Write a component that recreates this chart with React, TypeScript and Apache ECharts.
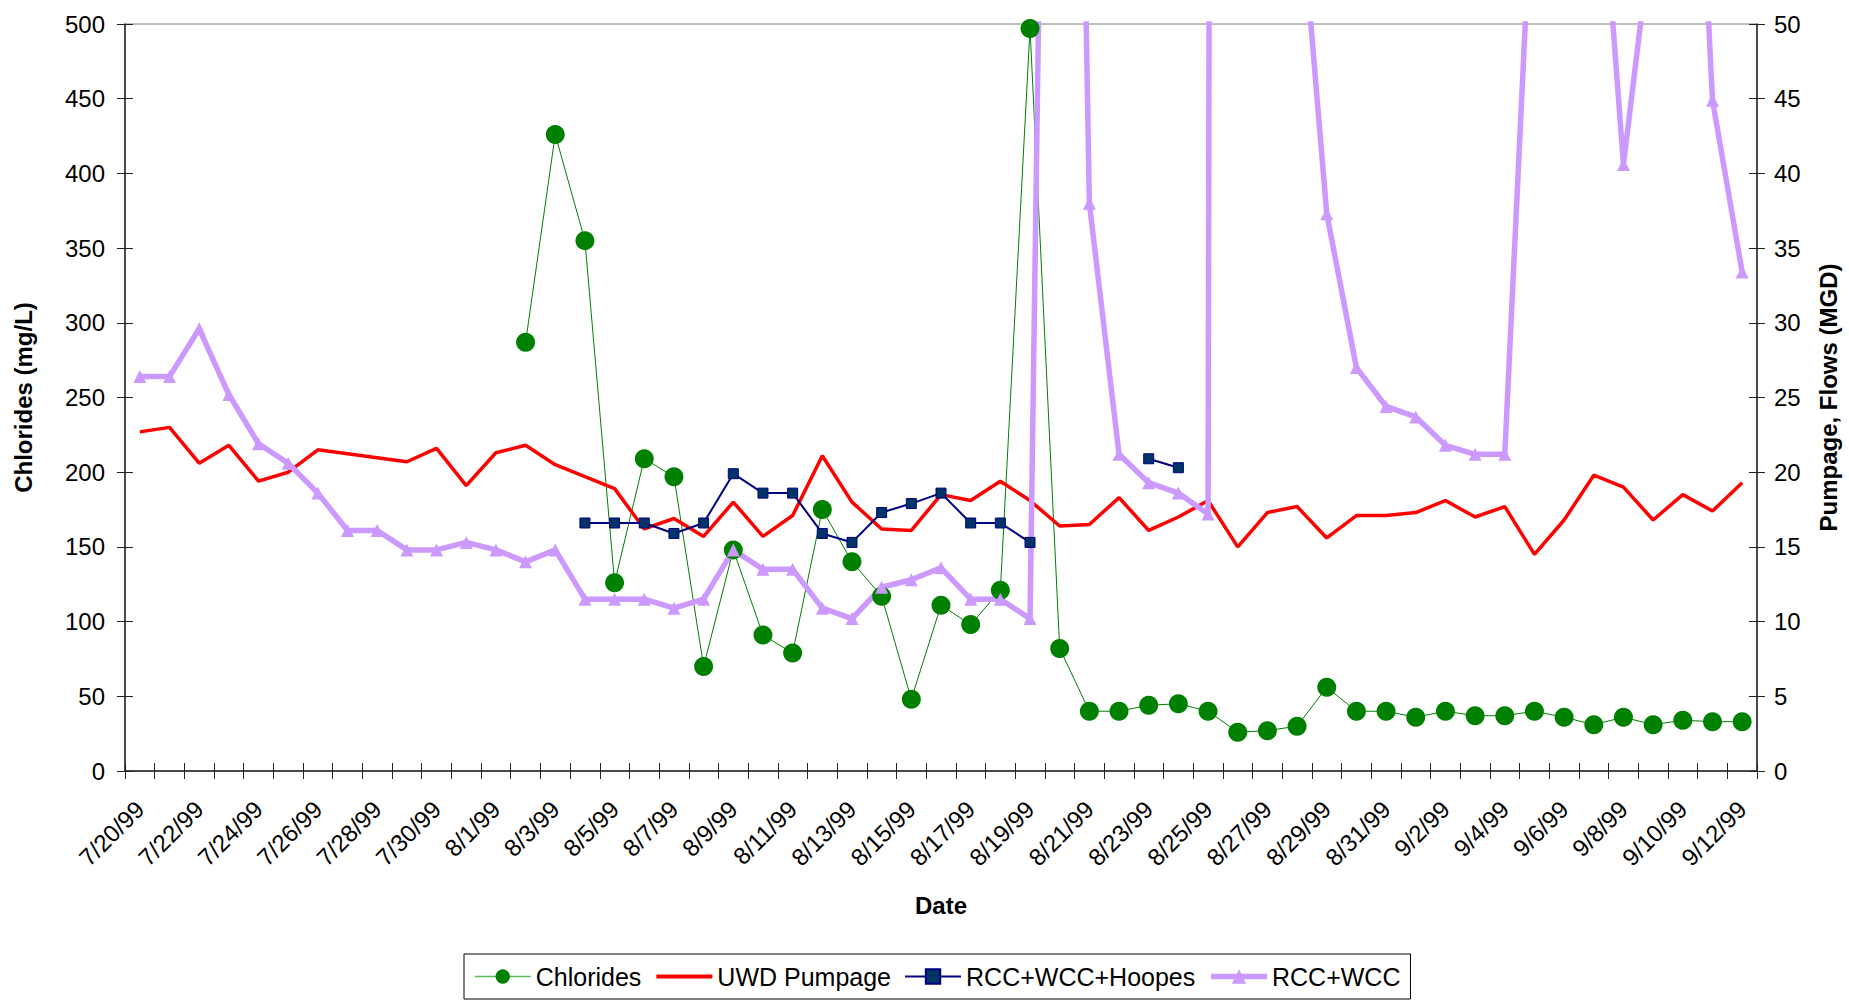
import React, { useEffect, useRef } from 'react';
import * as echarts from 'echarts';

const dates = [
  '7/20/99', '7/21/99', '7/22/99', '7/23/99', '7/24/99', '7/25/99', '7/26/99', '7/27/99', '7/28/99', '7/29/99',
  '7/30/99', '7/31/99', '8/1/99', '8/2/99', '8/3/99', '8/4/99', '8/5/99', '8/6/99', '8/7/99', '8/8/99',
  '8/9/99', '8/10/99', '8/11/99', '8/12/99', '8/13/99', '8/14/99', '8/15/99', '8/16/99', '8/17/99', '8/18/99',
  '8/19/99', '8/20/99', '8/21/99', '8/22/99', '8/23/99', '8/24/99', '8/25/99', '8/26/99', '8/27/99', '8/28/99',
  '8/29/99', '8/30/99', '8/31/99', '9/1/99', '9/2/99', '9/3/99', '9/4/99', '9/5/99', '9/6/99', '9/7/99',
  '9/8/99', '9/9/99', '9/10/99', '9/11/99', '9/12/99',
];

// Chlorides (mg/L), left axis
const chlorides = [
  null, null, null, null, null, null, null, null, null, null,
  null, null, null, 287, 426, 355, 126, 209, 197, 70,
  148, 91, 79, 175, 140, 117, 48, 111, 98, 121,
  497, 82, 40, 40, 44, 45, 40, 26, 27, 30,
  56, 40, 40, 36, 40, 37, 37, 40, 36, 31,
  36, 31, 34, 33, 33,
];

// UWD Pumpage (MGD), right axis
const uwdPumpage = [
  22.7, 23.0, 20.6, 21.8, 19.4, 20.0, 21.5, null, null, 20.7,
  21.6, 19.1, 21.3, 21.8, 20.5, 19.7, 18.9, 16.2, 16.9, 15.7,
  18.0, 15.7, 17.1, 21.1, 18.0, 16.2, 16.1, 18.5, 18.1, 19.4,
  18.1, 16.4, 16.5, 18.3, 16.1, 17.0, 18.1, 15.0, 17.3, 17.7,
  15.6, 17.1, 17.1, 17.3, 18.1, 17.0, 17.7, 14.5, 16.8, 19.8,
  19.0, 16.8, 18.5, 17.4, 19.3,
];

// RCC+WCC+Hoopes (MGD), right axis
const rccWccHoopes = [
  null, null, null, null, null, null, null, null, null, null,
  null, null, null, null, null, 16.6, 16.6, 16.6, 15.9, 16.6,
  19.9, 18.6, 18.6, 15.9, 15.3, 17.3, 17.9, 18.6, 16.6, 16.6,
  15.3, null, null, null, 20.9, 20.3, null, null, null, null,
  null, null, null, null, null, null, null, null, null, null,
  null, null, null, null, null,
];

// RCC+WCC (MGD), right axis
const rccWcc = [
  26.4, 26.4, 29.6, 25.2, 21.9, 20.6, 18.6, 16.1, 16.1, 14.8,
  14.8, 15.3, 14.8, 14.0, 14.8, 11.5, 11.5, 11.5, 10.9, 11.5,
  14.8, 13.5, 13.5, 10.9, 10.2, 12.3, 12.8, 13.6, 11.5, 11.5,
  10.2, 150, 38.0, 21.2, 19.3, 18.6, 17.2, 1000, 400, 61,
  37.3, 27.0, 24.4, 23.7, 21.8, 21.2, 21.2, 63, 90, 67,
  40.6, 57, 85, 44.9, 33.4,
];

const FONT = "'Liberation Sans', Arial, sans-serif";

export default function App() {
  const ref = useRef<HTMLDivElement>(null);

  useEffect(() => {
    if (!ref.current) return;
    const chart = echarts.init(ref.current, null, { renderer: 'svg' });
    const axisColor = '#222';
    const labelStyle = { fontSize: 24, color: '#000', fontFamily: FONT };
    const nameStyle = { fontSize: 24, fontWeight: 'bold', color: '#000', fontFamily: FONT };

    chart.setOption({
      animation: false,
      backgroundColor: '#fff',
      textStyle: { fontFamily: FONT },
      grid: {
        left: 125, right: 92, top: 24, bottom: 229,
        show: true, borderColor: '#808080', borderWidth: 1,
        outerBoundsMode: 'none',
      },
      legend: {
        left: 464, top: 954,
        orient: 'horizontal',
        data: [
          { name: 'Chlorides', lineStyle: { width: 1.5, color: '#5cb85c' } },
          { name: 'UWD Pumpage', lineStyle: { width: 4 }, itemStyle: { opacity: 0 } },
          { name: 'RCC+WCC+Hoopes', lineStyle: { width: 2 } },
          { name: 'RCC+WCC', lineStyle: { width: 5.5 } },
        ],
        borderColor: '#000', borderWidth: 1,
        padding: [10, 10, 10, 10],
        itemWidth: 56, itemHeight: 18, itemGap: 13,
        textStyle: { fontSize: 25, color: '#000', fontFamily: FONT },
      },
      xAxis: [
        {
          type: 'category', data: dates, boundaryGap: true, position: 'bottom',
          axisLine: { show: true, lineStyle: { color: axisColor, width: 1.5 } },
          axisTick: { show: true, interval: 0, length: 8, lineStyle: { color: axisColor } },
          axisLabel: { ...labelStyle, interval: 1, rotate: 45, margin: 34 },
          splitLine: { show: false },
          name: 'Date', nameLocation: 'middle', nameGap: 122, nameTextStyle: nameStyle,
        },
        {
          type: 'category', data: dates, boundaryGap: true, position: 'bottom',
          axisLine: { show: false },
          axisTick: { show: true, inside: true, interval: 0, length: 8, lineStyle: { color: axisColor } },
          axisLabel: { show: false },
          splitLine: { show: false },
        },
      ],
      yAxis: [
        {
          type: 'value', min: 0, max: 500, interval: 50, position: 'left',
          axisLine: { show: true, lineStyle: { color: axisColor, width: 1.5 } },
          axisTick: { show: true, length: 8, lineStyle: { color: axisColor } },
          axisLabel: { ...labelStyle, margin: 20 },
          splitLine: { show: false },
          name: 'Chlorides (mg/L)', nameLocation: 'middle', nameRotate: 90, nameGap: 90,
          nameTextStyle: nameStyle,
        },
        {
          type: 'value', min: 0, max: 50, interval: 5, position: 'right',
          axisLine: { show: true, lineStyle: { color: axisColor, width: 1.5 } },
          axisTick: { show: true, length: 8, lineStyle: { color: axisColor } },
          axisLabel: { ...labelStyle, margin: 17 },
          splitLine: { show: false },
          name: 'Pumpage, Flows (MGD)', nameLocation: 'middle', nameRotate: 90, nameGap: 59,
          nameTextStyle: nameStyle,
        },
        {
          type: 'value', min: 0, max: 500, interval: 50, position: 'left',
          axisLine: { show: false },
          axisTick: { show: true, inside: true, length: 8, lineStyle: { color: axisColor } },
          axisLabel: { show: false },
          splitLine: { show: false },
        },
        {
          type: 'value', min: 0, max: 50, interval: 5, position: 'right',
          axisLine: { show: false },
          axisTick: { show: true, inside: true, length: 8, lineStyle: { color: axisColor } },
          axisLabel: { show: false },
          splitLine: { show: false },
        },
      ],
      series: [
        {
          name: 'Chlorides', type: 'line', data: chlorides, yAxisIndex: 0,
          symbol: 'circle', symbolSize: 19, showAllSymbol: true,
          lineStyle: { color: '#008000', width: 1 },
          itemStyle: { color: '#008000' },
        },
        {
          name: 'UWD Pumpage', type: 'line', data: uwdPumpage, yAxisIndex: 1,
          symbol: 'none', connectNulls: true,
          lineStyle: { color: '#FF0000', width: 3.5 },
          itemStyle: { color: '#FF0000' },
        },
        {
          name: 'RCC+WCC+Hoopes', type: 'line', data: rccWccHoopes, yAxisIndex: 1,
          symbol: 'rect', symbolSize: 10, showAllSymbol: true,
          lineStyle: { color: '#000080', width: 2 },
          itemStyle: { color: '#003366', borderColor: '#000080', borderWidth: 1 },
        },
        {
          name: 'RCC+WCC', type: 'line', data: rccWcc, yAxisIndex: 1,
          symbol: 'triangle', symbolSize: 13, showAllSymbol: true,
          lineStyle: { color: '#CC99FF', width: 5.5 },
          itemStyle: { color: '#CC99FF' },
        },
      ],
    });

    return () => chart.dispose();
  }, []);

  return (
    <div
      ref={ref}
      style={{ position: 'fixed', left: 0, top: 0, width: 1849, height: 1000, background: '#fff' }}
    />
  );
}
